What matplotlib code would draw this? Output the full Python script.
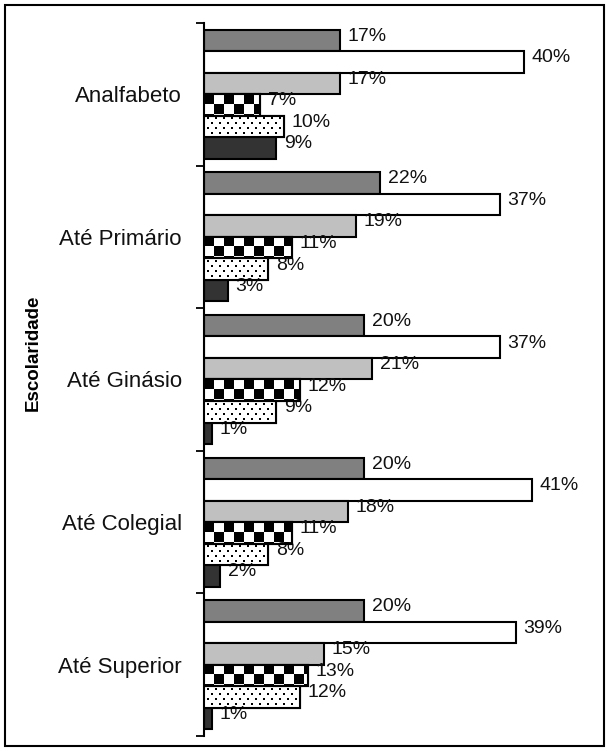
import matplotlib
matplotlib.use('Agg')
import matplotlib.pyplot as plt
import numpy as np
from matplotlib.patches import Rectangle

categories = ['Analfabeto', 'Até Primário', 'Até Ginásio', 'Até Colegial', 'Até Superior']
s1 = [17, 22, 20, 20, 20]
s2 = [40, 37, 37, 41, 39]
s3 = [17, 19, 21, 18, 15]
s4 = [7, 11, 12, 11, 13]
s5 = [10, 8, 9, 8, 12]
s6 = [9, 3, 1, 2, 1]
series = [s1, s2, s3, s4, s5, s6]
colors = ['#808080', '#ffffff', '#c0c0c0', '#ffffff', '#ffffff', '#333333']
patterns = [None, None, None, 'checker', 'dots', None]

W, H = 609, 751
fig = plt.figure(figsize=(W / 100, H / 100), dpi=100)
ax = fig.add_axes([204 / W, 15 / H, 400 / W, 713 / H])
ax.set_xlim(0, 50)
ax.set_ylim(len(categories) - 0.5, -0.5)
ax.set_autoscale_on(False)

FONT = 'Liberation Sans'
bh = 0.151
n = len(series)
y = np.arange(len(categories))


def texture(kind, wpx, hpx):
    img = np.ones((hpx, wpx, 3))
    yy, xx = np.mgrid[0:hpx, 0:wpx]
    if kind == 'checker':
        mask = ((xx // 10) + (yy // 10)) % 2 == 0
    else:
        row = yy // 5
        ry = yy % 5
        shift = np.where(row % 2 == 0, 0, 4)
        rx = (xx + shift) % 8
        mask = (ry >= 2) & (ry < 4) & (rx >= 3) & (rx < 5)
    img[mask] = 0
    return img


for k, vals in enumerate(series):
    off = (k - (n - 1) / 2) * bh
    yc = y + off
    bars = ax.barh(yc, vals, height=bh, color=colors[k], edgecolor='black',
                   linewidth=1.5, zorder=2)
    if patterns[k]:
        for bar, v, c in zip(bars, vals, yc):
            p0 = ax.transData.transform((0, c + bh / 2))
            p1 = ax.transData.transform((v, c - bh / 2))
            wpx = max(1, int(round(abs(p1[0] - p0[0]))))
            hpx = max(1, int(round(abs(p1[1] - p0[1]))))
            im = ax.imshow(texture(patterns[k], wpx, hpx),
                           extent=(0, v, c + bh / 2, c - bh / 2),
                           origin='upper', aspect='auto',
                           interpolation='nearest', zorder=3)
            im.set_clip_path(bar)
        ax.barh(yc, vals, height=bh, facecolor='none', edgecolor='black',
                linewidth=1.5, zorder=4)
    for v, c in zip(vals, yc):
        ax.annotate(f'{v}%', xy=(v, c), xytext=(5.5, 3), textcoords='offset points',
                    ha='left', va='center', fontsize=14, family=FONT, color='#111111')

ax.set_xlim(0, 50)
ax.set_ylim(len(categories) - 0.5, -0.5)

ax.set_yticks(np.arange(len(categories) + 1) - 0.5)
ax.set_yticklabels([])
ax.set_yticks(y, minor=True)
ax.set_yticklabels(categories, minor=True, family=FONT)
ax.tick_params(axis='y', which='major', length=6, width=1.3, direction='out')
ax.tick_params(axis='y', which='minor', length=0, pad=16, labelsize=16,
               labelcolor='#111111')
ax.xaxis.set_visible(False)
for s in ['top', 'right', 'bottom']:
    ax.spines[s].set_visible(False)
ax.spines['left'].set_linewidth(1.5)
ax.patch.set_visible(False)

fig.text(33 / W, 1 - 353 / H, 'Escolaridade', rotation=90, fontweight='bold',
         fontsize=13.5, ha='center', va='center', family=FONT)

fig.add_artist(Rectangle((5 / W, 5 / H), 599 / W, 741 / H, transform=fig.transFigure,
                         fill=False, linewidth=1.5, edgecolor='black'))

fig.savefig('out.png', dpi=100)
